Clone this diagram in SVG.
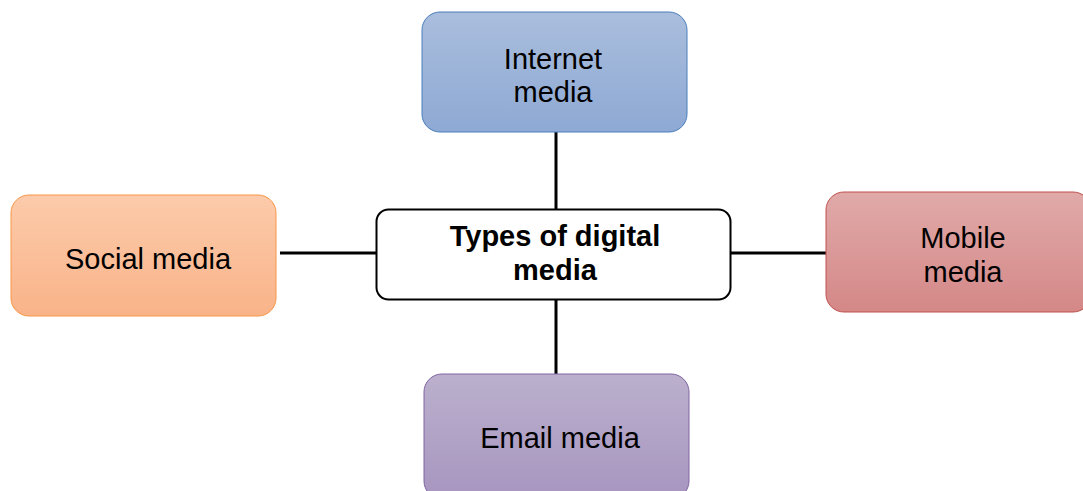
<svg xmlns="http://www.w3.org/2000/svg" width="1083" height="491" viewBox="0 0 1083 491">
<defs>
<linearGradient id="gBlue" x1="0" y1="0" x2="0" y2="1"><stop offset="0" stop-color="#aabedd"/><stop offset="1" stop-color="#8ea9d4"/></linearGradient>
<linearGradient id="gOrange" x1="0" y1="0" x2="0" y2="1"><stop offset="0" stop-color="#fccbab"/><stop offset="1" stop-color="#f9b389"/></linearGradient>
<linearGradient id="gRed" x1="0" y1="0" x2="0" y2="1"><stop offset="0" stop-color="#e0aaa9"/><stop offset="1" stop-color="#d48887"/></linearGradient>
<linearGradient id="gPurple" x1="0" y1="0" x2="0" y2="1"><stop offset="0" stop-color="#bbb0cd"/><stop offset="1" stop-color="#a795bf"/></linearGradient>
</defs>
<style>
text{font-family:"Liberation Sans",Arial,sans-serif;font-size:29px;fill:#000;text-anchor:middle}
.b{font-weight:bold}
.conn line{stroke:#000;stroke-width:3}
</style>
<rect width="1083" height="491" fill="#fff"/>
<g class="conn" id="connectors">
<line x1="556" y1="132" x2="556" y2="209"/>
<line x1="556" y1="300" x2="556" y2="374"/>
<line x1="280" y1="253" x2="376" y2="253"/>
<line x1="731" y1="253" x2="826" y2="253"/>
</g>
<g id="internet">
<rect x="422" y="12" width="265" height="120" rx="18" fill="url(#gBlue)" stroke="#4a7ebb" stroke-width="1"/>
<text x="553" y="69">Internet</text>
<text x="553" y="102">media</text>
</g>
<g id="social">
<rect x="11" y="195" width="265" height="121" rx="18" fill="url(#gOrange)" stroke="#f79646" stroke-width="1"/>
<text x="148" y="269">Social media</text>
</g>
<g id="center">
<rect x="376.5" y="209.5" width="354" height="90" rx="12" fill="#fff" stroke="#000" stroke-width="2"/>
<text class="b" x="555" y="246">Types of digital</text>
<text class="b" x="555" y="280">media</text>
</g>
<g id="mobile">
<rect x="826" y="192" width="265" height="120" rx="18" fill="url(#gRed)" stroke="#c0504d" stroke-width="1"/>
<text x="963" y="248">Mobile</text>
<text x="963" y="282">media</text>
</g>
<g id="email">
<rect x="424" y="374" width="265" height="125" rx="18" fill="url(#gPurple)" stroke="#8064a2" stroke-width="1"/>
<text x="560" y="448">Email media</text>
</g>
</svg>
